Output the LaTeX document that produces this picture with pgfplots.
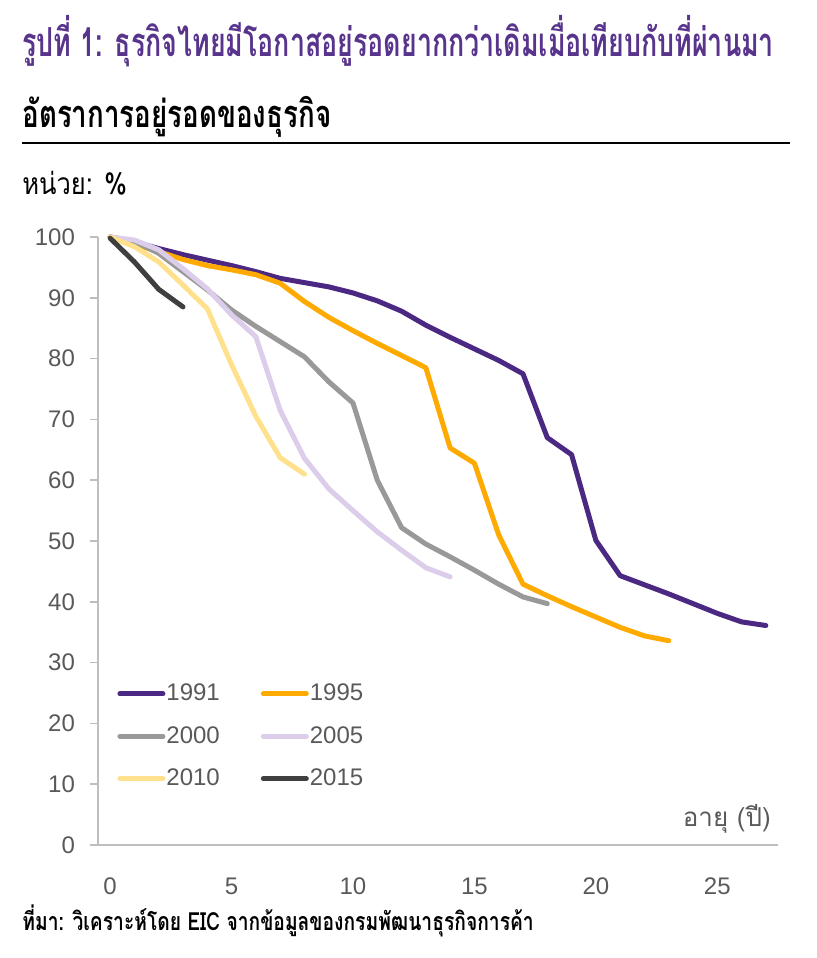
\documentclass[border=0pt]{standalone}
\usepackage{fontspec}
\usepackage{pgfplots}
\pgfplotsset{compat=1.18}
\setmainfont{Liberation Sans}
\newfontfamily\thai[Script=Thai]{Loma}
\newfontfamily\thaic[Script=Thai,FakeStretch=0.85]{Loma}
\newfontfamily\thait[Script=Thai,FakeStretch=0.67]{Loma}
\newfontfamily\thais[Script=Thai,FakeStretch=0.73]{Loma}
\newfontfamily\thaiq[Script=Thai,FakeStretch=0.77]{Loma}
\definecolor{c1991}{RGB}{75,40,130}
\definecolor{c1995}{RGB}{255,170,0}
\definecolor{c2000}{RGB}{153,153,153}
\definecolor{c2005}{RGB}{220,205,235}
\definecolor{c2010}{RGB}{255,224,140}
\definecolor{c2015}{RGB}{63,63,63}
\definecolor{ctitle}{RGB}{88,52,140}
\definecolor{ctick}{RGB}{89,89,89}
\definecolor{caxis}{RGB}{190,190,190}
\begin{document}
\begin{tikzpicture}
\useasboundingbox (0,0) rectangle (408.5pt,-479pt);
\node[anchor=base west, inner sep=0pt, text=ctitle, font=\thait\bfseries\fontsize{20pt}{22pt}\selectfont] at (11pt,-28pt) {รูปที่ 1: ธุรกิจไทยมีโอกาสอยู่รอดยากกว่าเดิมเมื่อเทียบกับที่ผ่านมา};
\node[anchor=base west, inner sep=0pt, text=black, font=\thais\bfseries\fontsize{19pt}{22pt}\selectfont] at (11pt,-63.5pt) {อัตราการอยู่รอดของธุรกิจ};
\draw[line width=1.3pt] (11pt,-71.5pt) -- (395pt,-71.5pt);
\node[anchor=base west, inner sep=0pt, text=black, font=\thaic\fontsize{15pt}{18pt}\selectfont] at (11pt,-97pt) {หน่วย: \%};
\node[anchor=base west, inner sep=0pt, text=black, font=\thaiq\bfseries\fontsize{12.5pt}{15pt}\selectfont] at (11pt,-465pt) {ที่มา: วิเคราะห์โดย EIC จากข้อมูลของกรมพัฒนาธุรกิจการค้า};
\begin{axis}[
  at={(49pt,-422.5pt)}, anchor=south west,
  scale only axis, width=340pt, height=304pt,
  xmin=-0.5, xmax=27.5, ymin=0, ymax=100,
  axis x line*=bottom, axis y line*=left,
  axis line style={draw=caxis, line width=0.8pt},
  xtick={0,5,...,25}, ytick={0,10,...,100},
  major tick length=4pt, tick align=outside,
  tick style={draw=caxis, line width=0.8pt},
  xtick style={draw=none},
  extra x ticks={-0.5,0.5,...,27.5}, extra x tick labels={},
  extra x tick style={major tick length=5pt, tick align=outside, tick style={draw=caxis, line width=0.8pt}, grid=none},
  ticklabel style={font=\fontsize{12pt}{14pt}\selectfont, text=ctick},
  xticklabel style={yshift=-9pt},
  yticklabel style={xshift=-4pt},
  /pgf/number format/assume math mode=true,
  clip=false,
  legend columns=2,
  legend cell align=left,
  legend style={draw=none, fill=none, at={(0.028,0.267)}, anchor=north west,
    font=\fontsize{12pt}{14pt}\selectfont, text=ctick,
    /tikz/every even column/.append style={column sep=20pt},
    row sep=10.3pt, inner sep=0pt, nodes={inner sep=0.5pt}},
  legend image code/.code={\draw[#1, line cap=round] (0pt,0pt) -- (21.5pt,0pt);},
  every axis plot/.append style={line width=2.5pt, line join=round, line cap=round},
]
\addplot[c1991] coordinates {(0,100)(1,99.2)(2,98.1)(3,97.1)(4,96.2)(5,95.3)(6,94.3)(7,93.2)(8,92.5)(9,91.8)(10,90.8)(11,89.5)(12,87.8)(13,85.5)(14,83.5)(15,81.6)(16,79.7)(17,77.5)(18,67.0)(19,64.2)(20,50.1)(21,44.3)(22,42.8)(23,41.3)(24,39.7)(25,38.1)(26,36.7)(27,36.1)};
\addlegendentry{1991}
\addplot[c1995] coordinates {(0,100)(1,98.8)(2,97.6)(3,96.3)(4,95.3)(5,94.6)(6,93.8)(7,92.4)(8,89.4)(9,86.8)(10,84.6)(11,82.5)(12,80.5)(13,78.5)(14,65.3)(15,62.8)(16,51.0)(17,42.9)(18,41.0)(19,39.2)(20,37.5)(21,35.8)(22,34.4)(23,33.6)};
\addlegendentry{1995}
\addplot[c2000] coordinates {(0,100)(1,99.3)(2,97.3)(3,94.3)(4,91.3)(5,88.0)(6,85.3)(7,82.8)(8,80.3)(9,76.2)(10,72.7)(11,60.0)(12,52.2)(13,49.5)(14,47.4)(15,45.2)(16,42.9)(17,40.8)(18,39.7)};
\addlegendentry{2000}
\addplot[c2005] coordinates {(0,100)(1,99.5)(2,97.9)(3,94.8)(4,91.5)(5,87.2)(6,83.6)(7,71.5)(8,63.6)(9,58.6)(10,55.0)(11,51.5)(12,48.5)(13,45.6)(14,44.1)};
\addlegendentry{2005}
\addplot[c2010] coordinates {(0,100)(1,98.4)(2,95.9)(3,92.1)(4,88.2)(5,79.0)(6,70.5)(7,63.7)(8,61.0)};
\addlegendentry{2010}
\addplot[c2015] coordinates {(0,99.8)(1,95.9)(2,91.4)(3,88.5)};
\addlegendentry{2015}
\node[anchor=base east, inner sep=0pt, text=ctick, font=\thai\fontsize{13pt}{15pt}\selectfont] at (rel axis cs:0.99,0.03) {อายุ (ปี)};
\end{axis}
\end{tikzpicture}
\end{document}
